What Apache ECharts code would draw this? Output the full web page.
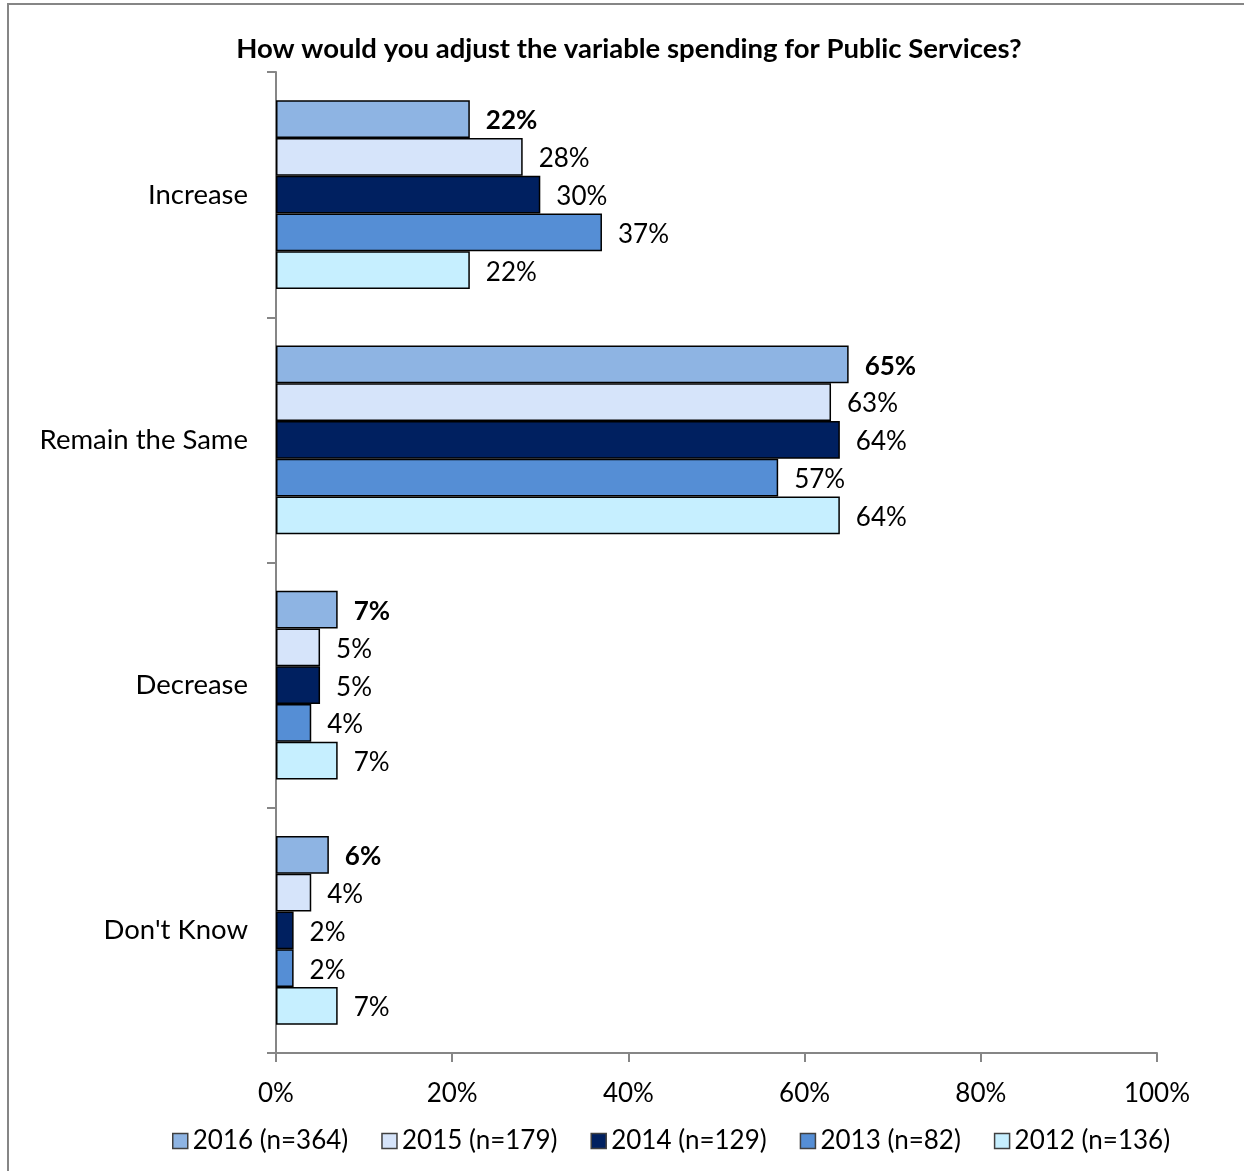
<!DOCTYPE html>
<html>
<head>
<meta charset="utf-8">
<script src="https://cdn.jsdelivr.net/npm/echarts@6/dist/echarts.min.js"></script>
<style>
  html, body { margin: 0; padding: 0; background: #fff; }
  #chart { width: 1244px; height: 1171px; }
</style>
</head>
<body>
<div id="chart"></div>
<script>
// Survey answers, top to bottom
const categories = ['Increase', 'Remain the Same', 'Decrease', "Don't Know"];

// Share of respondents per answer, by survey year (percent)
const years = ['2016 (n=364)', '2015 (n=179)', '2014 (n=129)', '2013 (n=82)', '2012 (n=136)'];
const values2016 = [22, 65, 7, 6];
const values2015 = [28, 63, 5, 4];
const values2014 = [30, 64, 5, 2];
const values2013 = [37, 57, 4, 2];
const values2012 = [22, 64, 7, 7];

const xTicks = [0, 20, 40, 60, 80, 100];

const seriesValues = [values2016, values2015, values2014, values2013, values2012];
const colors = ['#8EB4E3', '#D6E4FA', '#002060', '#558ED5', '#C6EFFF'];

const FONT = 'Lato, "Open Sans", sans-serif';

const chart = echarts.init(document.getElementById('chart'), null, { renderer: 'canvas' });

const series = years.map((name, i) => ({
  name: name,
  type: 'bar',
  data: seriesValues[i],
  barGap: '0%',
  barCategoryGap: '23%',
  itemStyle: { color: colors[i], borderColor: '#000', borderWidth: 1.5 },
  label: {
    show: true,
    position: 'right',
    distance: 16,
    offset: [0, 2],
    formatter: p => p.value + '%',
    fontFamily: FONT,
    fontSize: 26,
    fontWeight: i === 0 ? 'bold' : 'normal',
    color: '#000'
  },
  emphasis: { disabled: true },
  animation: false
}));

chart.setOption({
  animation: false,
  backgroundColor: '#fff',
  title: {
    text: 'How would you adjust the variable spending for Public Services?',
    left: 624,
    top: 30,
    textAlign: 'center',
    textStyle: { fontFamily: FONT, fontSize: 27.5, fontWeight: 'bold', color: '#000' }
  },
  grid: { left: 276, right: 87, top: 72, bottom: 118, containLabel: false },
  xAxis: {
    type: 'value',
    min: 0,
    max: 100,
    interval: 20,
    axisLine: { show: true, lineStyle: { color: '#868686', width: 2 } },
    axisTick: { show: true, length: 9, lineStyle: { color: '#868686', width: 2 } },
    splitLine: { show: false },
    axisLabel: {
      margin: 28,
      fontFamily: FONT,
      fontSize: 26,
      color: '#000',
      formatter: v => (xTicks.indexOf(v) >= 0 ? v + '%' : '')
    }
  },
  yAxis: {
    type: 'category',
    data: categories,
    inverse: true,
    axisLine: { show: true, lineStyle: { color: '#868686', width: 2 } },
    axisTick: { show: true, length: 9, alignWithLabel: false, lineStyle: { color: '#868686', width: 2 } },
    axisLabel: { margin: 28, fontFamily: FONT, fontSize: 27.5, color: '#000' }
  },
  legend: {
    data: years,
    left: 167,
    top: 1123,
    itemWidth: 15,
    itemHeight: 15,
    itemGap: 33,
    icon: 'rect',
    textStyle: { fontFamily: FONT, fontSize: 26, color: '#000' },
    itemStyle: { borderColor: '#404040', borderWidth: 1.5 }
  },
  graphic: [{
    type: 'rect',
    shape: { x: 8, y: 4, width: 1300, height: 1300 },
    style: { fill: 'none', stroke: '#868686', lineWidth: 2 },
    silent: true
  }],
  series: series
});
</script>
</body>
</html>
